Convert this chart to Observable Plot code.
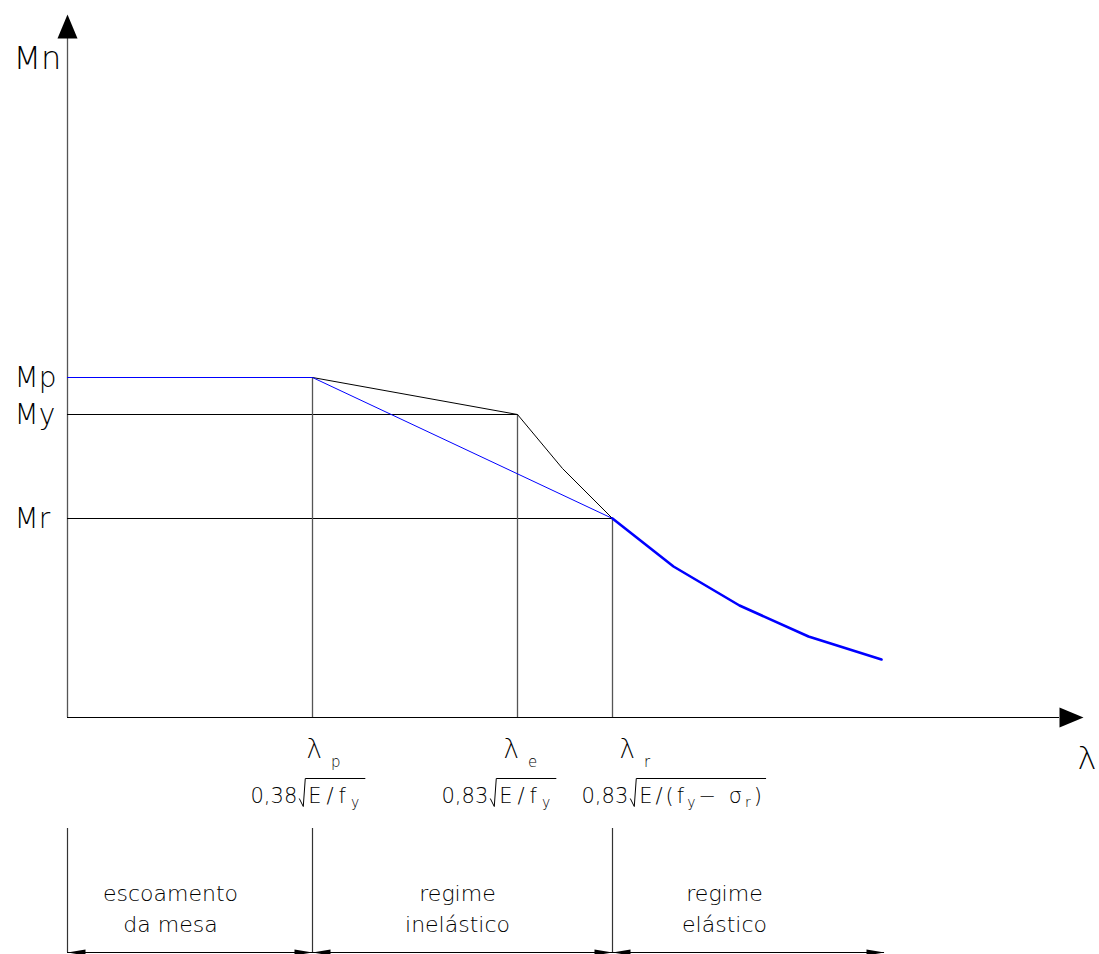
<!DOCTYPE html>
<html><head><meta charset="utf-8">
<script src="https://cdn.jsdelivr.net/npm/d3@7"></script>
<script src="https://cdn.jsdelivr.net/npm/@observablehq/plot@0.6"></script>
<style>body{margin:0;background:#fff} svg{display:block}</style>
</head><body><div id="chart"></div>
<script>
// ---- data (x in slenderness units λ, y in moment units M) ----
const lambdaX = [2.45, 4.50, 5.45];            // λp, λe, λr
const momentY = [3.40, 3.03, 1.99];            // Mp, My, Mr
const momentLabels = ["Mp", "My", "Mr"];
const lambdaLabels = ["λ_{p}", "λ_{e}", "λ_{r}"];
const formulaLabels = ["0,38√{E/f_{y}}", "0,83√{E/f_{y}}", "0,83√{E/(f_{y}− σ_{r})}"];
const inelasticX = [2.45, 4.50, 4.95, 5.45];
const inelasticY = [3.40, 3.03, 2.49, 1.99];
const linearX = [2.45, 5.45];
const linearY = [3.40, 1.99];
const elasticX = [5.45, 6.06, 6.72, 7.41, 8.14];
const elasticY = [1.99, 1.51, 1.12, 0.81, 0.58];
const regimeLabels = ["escoamento\nda mesa", "regime\ninelástico", "regime\nelástico"];
const regimeX = [1.03, 3.90, 6.57];
const axisLabelY = "Mn";
const axisLabelX = "λ";

// ---- layout ----
const xMax = 10.32, yMax = 7.17;
const yAxisEnd = 6.79, yArrowTip = 7.03, xAxisEnd = 9.92, xArrowTip = 10.16;
const dimTop = -1.11, dimY = -2.35, dimEnd = 8.17, regimeBase = -2.14;
const lambdaDx = [-6, -14, 7];
const formulaDx = [-62, -76, -31];
const FONT = "DejaVu Sans";

const pts = (xs, ys) => xs.map((x, i) => ({x, y: ys[i]}));

function arrowSymbol(L, W) {
  return {draw(ctx) { ctx.moveTo(0, 0); ctx.lineTo(-W / 2, L); ctx.lineTo(W / 2, L); ctx.closePath(); }};
}
const bigArrow = arrowSymbol(24, 20);
const smallArrow = arrowSymbol(18, 6);

const smallArrows = [
  {x: 0, r: -90}, {x: lambdaX[0], r: 90}, {x: lambdaX[0], r: -90},
  {x: lambdaX[2], r: 90}, {x: lambdaX[2], r: -90}, {x: dimEnd, r: 90}
];

const textBase = {fontFamily: FONT, fontWeight: 200, fill: "black", lineAnchor: "bottom", textAnchor: "start"};

const marks = [
  // axes
  Plot.ruleX([0], {x: 0, y1: 0, y2: yAxisEnd, stroke: "#555", strokeWidth: 1.3}),
  Plot.ruleY([0], {y: 0, x1: 0, x2: xAxisEnd, stroke: "black"}),
  Plot.dot([{x: 0, y: yArrowTip, r: 0}, {x: xArrowTip, y: 0, r: 90}],
    {x: "x", y: "y", rotate: "r", symbol: bigArrow, fill: "black", stroke: "none"}),
  // horizontal guides
  Plot.ruleY([0], {y: momentY[0], x1: 0, x2: lambdaX[0], stroke: "#0000ff"}),
  Plot.ruleY([1, 2], {y: i => momentY[i], x1: 0, x2: i => lambdaX[i], stroke: "black"}),
  // vertical guides
  Plot.ruleX([0, 1, 2], {x: i => lambdaX[i], y1: 0, y2: i => momentY[i], stroke: "#555", strokeWidth: 1.3}),
  // curves
  Plot.line(pts(inelasticX, inelasticY), {x: "x", y: "y", stroke: "black", strokeWidth: 1}),
  Plot.line(pts(linearX, linearY), {x: "x", y: "y", stroke: "#0000ff", strokeWidth: 1}),
  Plot.line(pts(elasticX, elasticY), {x: "x", y: "y", stroke: "#0000ff", strokeWidth: 2.6}),
  // dimension region
  Plot.ruleX([0, lambdaX[0], lambdaX[2]], {x: d => d, y1: dimTop, y2: dimY, stroke: "#333", strokeWidth: 1.2}),
  Plot.ruleY([dimY], {y: d => d, x1: 0, x2: dimEnd, stroke: "black"}),
  Plot.dot(smallArrows, {x: "x", y: dimY, rotate: "r", symbol: smallArrow, fill: "black", stroke: "none"}),
  Plot.text(regimeLabels, {x: (d, i) => regimeX[i], y: regimeBase, text: d => d, ...textBase,
    textAnchor: "middle", fontSize: 22, lineHeight: 1.4}),
  // labels
  Plot.text(momentLabels, {x: 0, y: (d, i) => momentY[i], text: d => d, dx: -53, dy: 9, ...textBase, fontSize: 28}),
  Plot.text([axisLabelY], {x: 0, y: 6.49, text: d => d, dx: -54, ...textBase, fontSize: 32}),
  Plot.text([axisLabelX], {x: xArrowTip - 0.06, y: -0.51, text: d => d, ...textBase, fontSize: 32}),
  ...lambdaLabels.map((t, i) => Plot.text([t], {x: lambdaX[i], y: 0, text: d => d, dx: lambdaDx[i], dy: 40, ...textBase, fontSize: 26})),
  ...formulaLabels.map((t, i) => Plot.text([t], {x: lambdaX[i], y: 0, text: d => d, dx: formulaDx[i], dy: 85, ...textBase, fontSize: 21}))
];

const chart = Plot.plot({
  width: 1099, height: 954,
  marginLeft: 67, marginRight: 0, marginTop: 0, marginBottom: 954 - 717,
  x: {domain: [0, xMax], axis: null},
  y: {domain: [0, yMax], axis: null},
  style: {background: "white", overflow: "visible"},
  marks
});
document.getElementById("chart").appendChild(chart);

// ---- rich text: subscripts and radicals ----
const richStyles = new Map([
  ...lambdaLabels.map(l => [l, {sub: 15, subDy: 9, subDx: 9, radGap: 0, radLS: 0}]),
  [formulaLabels[0], {sub: 14, subDy: 4, subDx: 0, radGap: 11, radLS: 5, radH: 24}],
  [formulaLabels[1], {sub: 14, subDy: 4, subDx: 0, radGap: 11, radLS: 5, radH: 24}],
  [formulaLabels[2], {sub: 14, subDy: 4, subDx: 0, radGap: 11, radLS: 3, radH: 24}]
]);
const NS = "http://www.w3.org/2000/svg";
function parse(str) {
  const segs = []; let i = 0, inRad = false, buf = "";
  const flush = () => { if (buf) { segs.push({t: buf, sub: false, rad: inRad}); buf = ""; } };
  while (i < str.length) {
    if (str.startsWith("_{", i)) { flush(); const j = str.indexOf("}", i); segs.push({t: str.slice(i + 2, j), sub: true, rad: inRad}); i = j + 1; }
    else if (str.startsWith("√{", i)) { flush(); inRad = true; segs.push({radStart: true}); i += 2; }
    else if (str[i] === "}" && inRad) { flush(); inRad = false; segs.push({radEnd: true}); i++; }
    else { buf += str[i]; i++; }
  }
  flush();
  return segs;
}
chart.querySelectorAll("text").forEach(el => {
  const st = richStyles.get(el.textContent);
  if (!st) return;
  const segs = parse(el.textContent);
  el.textContent = "";
  let shift = 0, idx = 0, pendingDx = 0, radA = null, radB = null;
  for (const s of segs) {
    if (s.radStart) { pendingDx += st.radGap; radA = idx; continue; }
    if (s.radEnd) { radB = idx - 1; continue; }
    const ts = document.createElementNS(NS, "tspan");
    ts.textContent = s.t;
    let dy;
    if (s.sub) { ts.setAttribute("font-size", st.sub); dy = st.subDy - shift; shift = st.subDy; pendingDx += st.subDx; }
    else { dy = -shift; shift = 0; }
    if (dy) ts.setAttribute("dy", dy);
    if (pendingDx) { ts.setAttribute("dx", pendingDx); pendingDx = 0; }
    if (s.rad && st.radLS) ts.setAttribute("letter-spacing", st.radLS);
    el.appendChild(ts);
    idx += s.t.length;
  }
  if (radA != null && radB != null) {
    const p0 = el.getStartPositionOfChar(radA);
    const p1 = el.getEndPositionOfChar(radB);
    const base = p0.y, xs = p0.x - 3, xe = p1.x + 1, top = base - st.radH;
    const path = document.createElementNS(NS, "path");
    path.setAttribute("d", `M${xs - 6},${base - 4}L${xs - 2},${base + 4}L${xs},${top}L${xe},${top}`);
    path.setAttribute("fill", "none");
    path.setAttribute("stroke", "black");
    path.setAttribute("stroke-width", 1);
    const tr = el.getAttribute("transform");
    if (tr) path.setAttribute("transform", tr);
    el.parentNode.appendChild(path);
  }
});
</script>
</body></html>
